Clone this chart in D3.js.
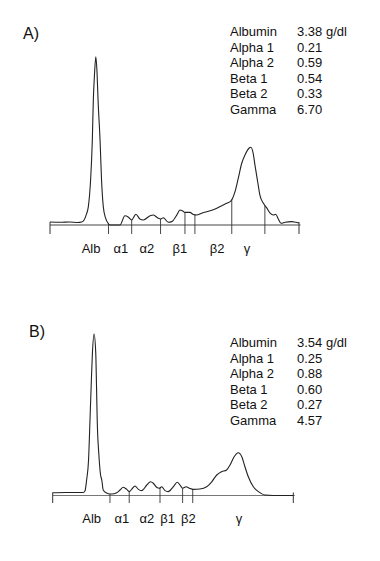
<!DOCTYPE html>
<html>
<head>
<meta charset="utf-8">
<script src="https://cdn.jsdelivr.net/npm/d3@7/dist/d3.min.js"></script>
<style>
html,body{margin:0;padding:0;background:#fff;}
svg{display:block;}
text{font-family:"Liberation Sans",Arial,sans-serif;fill:#111;}
</style>
</head>
<body>
<svg id="chart" width="380" height="561"></svg>
<script>
// ---------- Data ----------
const fractionNames = ["Albumin","Alpha 1","Alpha 2","Beta 1","Beta 2","Gamma"];
const valuesA = ["3.38 g/dl","0.21","0.59","0.54","0.33","6.70"];
const valuesB = ["3.54 g/dl","0.25","0.88","0.60","0.27","4.57"];
const bandLabels = ["Alb","α1","α2","β1","β2","γ"];

// densitogram A: mobility (0-100) vs relative absorbance (peak = 100)
const mobilityA = [0,4.0,8.0,11.2,12.7,13.7,14.5,15.4,16.3,17.0,17.4,17.9,18.4,18.9,19.3,20.1,20.7,21.4,22.3,23.4,24.1,28.1,30.1,31.4,32.8,34.5,36.1,37.5,40.2,41.5,43.5,44.5,45.5,47.5,48.9,50.9,52.2,53.3,54.2,56.2,57.6,58.9,60.9,62.9,66.3,69.0,71.0,72.7,74.3,75.6,77.0,78.3,79.9,80.7,81.6,82.3,83.4,84.3,85.7,87.0,88.4,89.7,90.6,91.7,92.8,94.4,97.1,98.7,100];
const absorbA  = [1.8,1.6,1.8,1.5,1.8,3.0,5.9,10.9,26.7,50.5,74.3,90.3,100,90.3,74.3,50.5,26.7,10.9,4.2,0.9,0,0,5.5,4.8,3.0,6.4,3.6,3.0,5.5,5.9,4.0,3.6,4.3,1.6,2.0,5.9,8.9,8.3,7.5,7.5,6.2,5.9,7.0,7.9,9.5,11.5,12.9,14.3,19.8,27.7,36.7,41.6,45.6,46.2,42.6,35.7,25.7,17.8,12.9,10.3,7.0,5.9,6.4,3.6,1.0,1.6,2.0,1.6,1.2];
const dividersA = [23.5,32.8,44.4,54.2,58.2,73.0,86.3];
const labelPosA = [16.5,28.5,38.9,52.2,67.1,79.1];

// densitogram B
const mobilityB = [0,5.1,9.3,12.7,13.4,14.1,14.9,15.5,16.0,16.5,17.2,17.9,18.2,18.5,19.2,19.9,20.4,21.0,22.4,23.8,24.5,26.6,28.0,29.3,30.8,31.8,32.8,34.2,35.6,37.0,39.1,40.7,41.8,43.2,44.3,45.3,46.7,48.0,50.1,51.8,52.9,54.0,55.4,56.8,58.4,61.2,64.0,66.1,68.2,70.2,72.3,73.7,75.4,77.1,78.6,79.9,81.3,83.4,85.5,88.2,91.7,95.8,100];
const absorbB  = [1.7,1.9,1.9,1.9,2.8,9.6,22.0,46.7,68.4,88.0,100,88.0,68.4,46.7,25.1,12.7,9.6,3.4,1.5,0.9,0.9,1.7,3.4,5.1,3.8,2.4,3.8,5.9,3.8,3.0,6.5,8.5,7.6,5.1,4.5,5.4,3.0,2.4,5.4,8.2,6.5,4.5,5.4,4.5,3.8,4.0,5.4,8.5,12.7,14.7,15.8,18.9,24.0,26.5,24.0,17.8,11.6,5.4,2.4,0.3,0,0,0];
const dividersB = [23.8,31.8,44.6,54.0,58.2];
const labelPosB = [16.2,28.7,39.1,47.8,56.4,77.4];

// ---------- Drawing ----------
const svg = d3.select("#chart");
svg.append("rect").attr("width",380).attr("height",561).attr("fill","#fff");

function interp(xs, ys, x){
  for(let i=1;i<xs.length;i++){
    if(x<=xs[i]){
      const t=(x-xs[i-1])/(xs[i]-xs[i-1]);
      return ys[i-1]+t*(ys[i]-ys[i-1]);
    }
  }
  return ys[ys.length-1];
}

function panel(cfg){
  const g = svg.append("g");
  const x = d3.scaleLinear().domain([0,100]).range(cfg.xRange);
  const y = d3.scaleLinear().domain([0,100]).range(cfg.yRange);
  const pts = cfg.mob.map((m,i)=>[m,cfg.abs[i]]);
  const axisY = y(0);

  // baseline axis
  g.append("line").attr("x1",x(0)).attr("x2",x(100)+1.5)
    .attr("y1",axisY).attr("y2",axisY)
    .attr("stroke",cfg.axisColor).attr("stroke-width",1);
  // end ticks
  [0,100].forEach(v=>{
    g.append("line").attr("x1",x(v)).attr("x2",x(v))
      .attr("y1",axisY-3).attr("y2",cfg.tickBottom)
      .attr("stroke","#333").attr("stroke-width",1);
  });
  // dividers
  cfg.div.forEach(v=>{
    const top = y(interp(cfg.mob,cfg.abs,v));
    g.append("line").attr("x1",x(v)).attr("x2",x(v))
      .attr("y1",Math.min(top,axisY)).attr("y2",cfg.tickBottom)
      .attr("stroke","#333").attr("stroke-width",0.9);
  });
  // curve
  const line = d3.line().x(d=>x(d[0])).y(d=>y(d[1])).curve(d3.curveMonotoneX);
  g.append("path").datum(pts).attr("d",line)
    .attr("fill","none").attr("stroke","#222").attr("stroke-width",1.1)
    .attr("stroke-linejoin","round");

  // band labels
  g.selectAll(".bl").data(bandLabels).enter().append("text")
    .attr("x",(d,i)=>x(cfg.labelPos[i])).attr("y",cfg.labelY)
    .attr("text-anchor","middle").attr("font-size","13px").text(d=>d);

  // panel letter
  g.append("text").attr("x",cfg.letterX).attr("y",cfg.letterY)
    .attr("font-size","16px").text(cfg.letter);

  // table
  fractionNames.forEach((n,i)=>{
    g.append("text").attr("x",230).attr("y",cfg.tableY+i*15.6)
      .attr("font-size","13px").text(n);
    g.append("text").attr("x",297).attr("y",cfg.tableY+i*15.6)
      .attr("font-size","13px").text(cfg.values[i]);
  });
}

panel({mob:mobilityA, abs:absorbA, div:dividersA, labelPos:labelPosA, values:valuesA,
  xRange:[50,299], yRange:[225,56.7], tickBottom:234, labelY:253,
  letter:"A)", letterX:23, letterY:39, tableY:36, axisColor:"#444"});

panel({mob:mobilityB, abs:absorbB, div:dividersB, labelPos:labelPosB, values:valuesB,
  xRange:[52.7,293.3], yRange:[495.5,334], tickBottom:503, labelY:523,
  letter:"B)", letterX:29, letterY:337, tableY:347, axisColor:"#777"});
</script>
</body>
</html>
